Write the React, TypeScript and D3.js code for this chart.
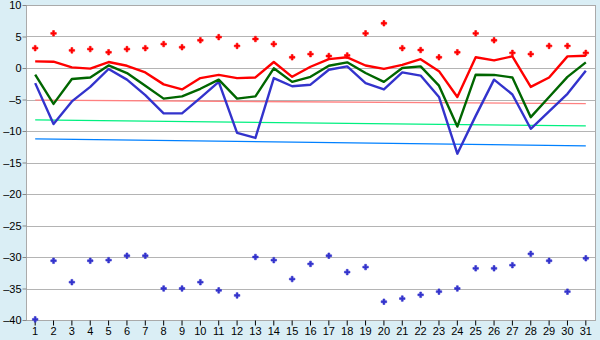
import { useEffect, useRef } from "react";
import * as d3 from "d3";

// day-of-month categories
const days = d3.range(1, 32).map(String);

// daily series (°C)
const maxLine = [1.05, 1.0, 0.1, -0.1, 0.95, 0.35, -0.7, -2.6, -3.4, -1.6, -1.1, -1.6, -1.5, 0.95, -1.4,
  0.2, 1.4, 1.7, 0.4, -0.15, 0.5, 1.4, -0.5, -4.6, 1.7, 1.2, 1.85, -3.0, -1.5, 1.85, 1.95];
const avgLine = [-1.06, -5.7, -1.75, -1.5, 0.4, -0.8, -2.8, -4.86, -4.5, -3.3, -1.85, -4.86, -4.5, -0.05, -2.2,
  -1.4, 0.35, 0.9, -0.8, -2.2, 0.0, 0.26, -2.8, -9.3, -1.06, -1.1, -1.5, -7.8, -4.6, -1.4, 0.9];
const minLine = [-2.4, -8.9, -5.3, -3.0, -0.16, -1.85, -4.3, -7.2, -7.2, -4.75, -2.2, -10.3, -11.1, -1.6, -2.9,
  -2.65, -0.27, 0.26, -2.4, -3.4, -0.7, -1.2, -4.6, -13.6, -7.6, -1.85, -4.2, -9.65, -6.9, -4.1, -0.43];
const maxPoints = [3.15, 5.5, 2.8, 3.0, 2.5, 3.0, 3.15, 3.8, 3.3, 4.4, 4.9, 3.5, 4.6, 3.8, 1.7,
  2.2, 1.9, 2.0, 5.5, 7.1, 3.15, 2.85, 1.7, 2.5, 5.5, 4.4, 2.4, 2.2, 3.5, 3.5, 2.4];
const minPoints = [-39.9, -30.6, -34.0, -30.6, -30.5, -29.8, -29.8, -35.0, -35.0, -34.0, -35.3, -36.1, -30.0, -30.5, -33.5,
  -31.1, -29.8, -32.4, -31.6, -37.1, -36.6, -36.0, -35.5, -35.0, -31.8, -31.8, -31.3, -29.5, -30.6, -35.5, -30.2];

// trend lines: [start, end]
const trendMax = [-5.1, -5.65];
const trendAvg = [-8.25, -9.2];
const trendMin = [-11.25, -12.35];

const yTicks = [10, 5, 0, -5, -10, -15, -20, -25, -30, -35, -40];

const App = () => {
  const svgRef = useRef<SVGSVGElement>(null);

  useEffect(() => {
    const width = 600;
    const height = 340;
    const margin = { top: 5, right: 5, bottom: 20, left: 26 };

    const svg = d3.select(svgRef.current);
    svg.selectAll("*").remove();

    svg.append("rect").attr("width", width).attr("height", height).attr("fill", "#daeef5");

    const x = d3
      .scaleBand()
      .domain(days)
      .range([margin.left, width - margin.right]);
    const cx = (d: string) => (x(d) as number) + x.bandwidth() / 2;

    const y = d3
      .scaleLinear()
      .domain([-40, 10])
      .range([height - margin.bottom, margin.top]);

    // plot area
    svg
      .append("rect")
      .attr("x", margin.left)
      .attr("y", margin.top)
      .attr("width", width - margin.left - margin.right)
      .attr("height", height - margin.top - margin.bottom)
      .attr("fill", "#fff");

    // grid
    svg
      .append("g")
      .selectAll("line")
      .data(yTicks)
      .join("line")
      .attr("x1", margin.left)
      .attr("x2", width - margin.right)
      .attr("y1", (d) => Math.round(y(d)) + 0.5)
      .attr("y2", (d) => Math.round(y(d)) + 0.5)
      .attr("stroke", "#b4b4b4");

    // border
    svg
      .append("rect")
      .attr("x", margin.left + 0.5)
      .attr("y", margin.top + 0.5)
      .attr("width", width - margin.left - margin.right)
      .attr("height", height - margin.top - margin.bottom)
      .attr("fill", "none")
      .attr("stroke", "#aaa");

    // axes
    const font = "'Liberation Sans', Arial, sans-serif";
    const yAxis = d3.axisLeft(y).tickValues(yTicks).tickSize(4).tickPadding(1).tickFormat((d) => {
      const v = d as number;
      return v < 0 ? "\u2013" + Math.abs(v) : String(v);
    });
    const gy = svg
      .append("g")
      .attr("transform", `translate(${margin.left + 0.5},0)`)
      .call(yAxis);
    gy.select(".domain").remove();
    gy.selectAll("line").attr("stroke", "#888");
    gy.selectAll("text").attr("font-family", font).attr("font-size", 11).attr("fill", "#000");

    const xAxis = d3.axisBottom(x).tickSize(5).tickPadding(2);
    const gx = svg
      .append("g")
      .attr("transform", `translate(0,${height - margin.bottom + 0.5})`)
      .call(xAxis);
    gx.select(".domain").remove();
    gx.selectAll("line").attr("stroke", "#000");
    gx.selectAll("text").attr("font-family", font).attr("font-size", 11).attr("fill", "#000");

    // trend lines
    const first = cx(days[0]);
    const last = cx(days[days.length - 1]);
    const trends = [
      { v: trendMax, c: "#ff8080" },
      { v: trendAvg, c: "#00f080" },
      { v: trendMin, c: "#0080ff" },
    ];
    svg
      .append("g")
      .selectAll("line")
      .data(trends)
      .join("line")
      .attr("x1", first)
      .attr("x2", last)
      .attr("y1", (d) => y(d.v[0]))
      .attr("y2", (d) => y(d.v[1]))
      .attr("stroke", (d) => d.c)
      .attr("stroke-width", 1.3);

    // series lines
    const line = d3
      .line<number>()
      .x((_, i) => cx(days[i]))
      .y((d) => y(d));
    const series = [
      { v: minLine, c: "#3333cc" },
      { v: avgLine, c: "#006600" },
      { v: maxLine, c: "#ff0000" },
    ];
    svg
      .append("g")
      .selectAll("path")
      .data(series)
      .join("path")
      .attr("d", (d) => line(d.v))
      .attr("fill", "none")
      .attr("stroke", (d) => d.c)
      .attr("stroke-width", 2.4)
      .attr("stroke-linejoin", "round");

    // point markers
    const cross = d3.symbol().type(d3.symbolCross).size(17);
    const pts = [
      { v: maxPoints, c: "#ff0000" },
      { v: minPoints, c: "#3333cc" },
    ];
    pts.forEach((s) => {
      svg
        .append("g")
        .selectAll("path")
        .data(s.v)
        .join("path")
        .attr("d", cross)
        .attr("transform", (d, i) => `translate(${cx(days[i])},${y(d)})`)
        .attr("fill", s.c)
        .attr("stroke", s.c)
        .attr("stroke-width", 0.6);
    });
  }, []);

  return (
    <svg
      ref={svgRef}
      width={600}
      height={340}
      style={{ position: "absolute", left: 0, top: 0 }}
    />
  );
};

export default App;
